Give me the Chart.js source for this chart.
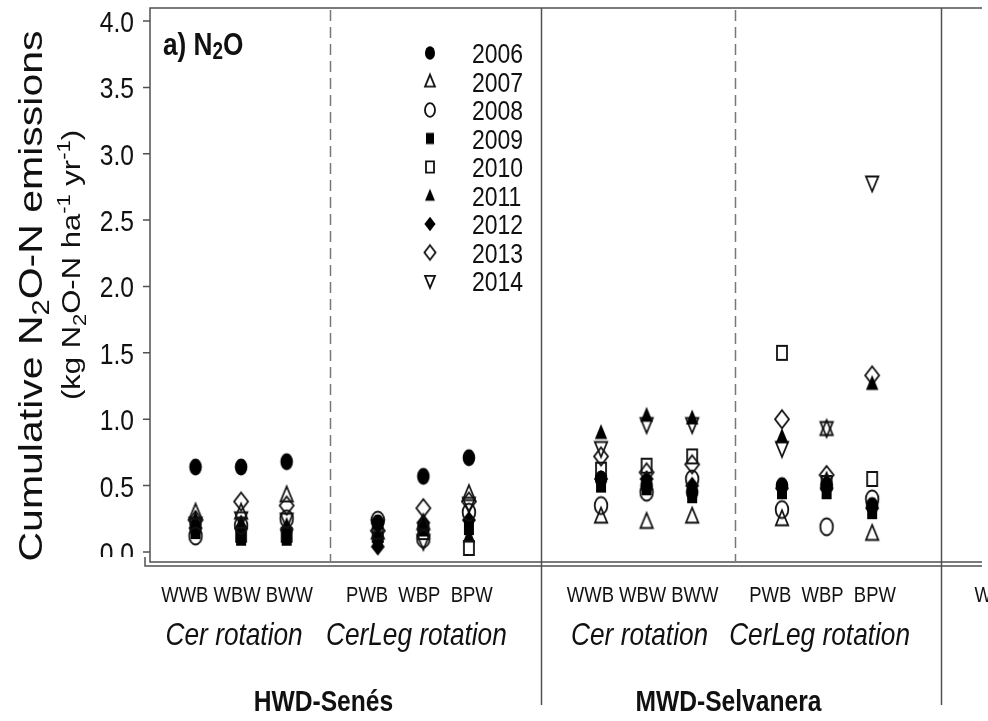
<!DOCTYPE html>
<html>
<head>
<meta charset="utf-8">
<script src="https://cdn.jsdelivr.net/npm/chart.js@4"></script>
<style>
  html, body { margin: 0; padding: 0; background: #fff; overflow: hidden; }
  canvas { display: block; }
</style>
</head>
<body>
<canvas id="n2o" width="988" height="721"></canvas>
<script>
// treatments, three per rotation block; the last three belong to the next site
const treatments = ["WWB", "WBW", "BWW", "PWB", "WBP", "BPW",
                    "WWB", "WBW", "BWW", "PWB", "WBP", "BPW",
                    "WWB", "WBW", "BWW"];
const treatmentX = [1, 2, 3, 5, 6, 7, 9.9, 10.9, 11.9, 13.87, 14.85, 15.85, 18.85, 19.85, 20.85];
const rotations = ["Cer rotation", "CerLeg rotation", "Cer rotation", "CerLeg rotation"];
const sites = ["HWD-Senés", "MWD-Selvanera"];
const years = ["2006", "2007", "2008", "2009", "2010", "2011", "2012", "2013", "2014"];
const yTicks = [0, 0.5, 1, 1.5, 2, 2.5, 3, 3.5, 4];

// cumulative N2O-N (kg N2O-N ha-1 yr-1), order follows treatments
const y2006 = [0.64, 0.64, 0.68, 0.22, 0.57, 0.71, 0.55, 0.50, 0.45, 0.50, 0.50, 0.35];
const y2007 = [0.30, 0.30, 0.43, 0.15, 0.22, 0.44, 0.27, 0.23, 0.27, 0.25, 0.93, 0.14];
const y2008 = [0.12, 0.20, 0.25, 0.24, 0.10, 0.30, 0.35, 0.45, 0.55, 0.32, 0.19, 0.40];
const y2009 = [0.15, 0.10, 0.10, 0.10, 0.17, 0.18, 0.50, 0.48, 0.42, 0.45, 0.45, 0.30];
const y2010 = [0.20, 0.13, 0.13, 0.13, 0.15, 0.03, 0.62, 0.65, 0.72, 1.50, 0.52, 0.55];
const y2011 = [0.25, 0.22, 0.20, 0.12, 0.20, 0.12, 0.90, 1.03, 1.01, 0.87, 0.55, 1.27];
const y2012 = [0.18, 0.18, 0.17, 0.04, 0.22, 0.24, 0.55, 0.55, 0.50, 0.48, 0.48, 0.33];
const y2013 = [0.24, 0.38, 0.35, 0.16, 0.33, 0.38, 0.72, 0.60, 0.66, 1.00, 0.58, 1.33];
const y2014 = [0.21, 0.25, 0.24, 0.19, 0.08, 0.36, 0.78, 0.96, 0.96, 0.78, 0.93, 2.78];
const series = [y2006, y2007, y2008, y2009, y2010, y2011, y2012, y2013, y2014];

// symbol per year
const yearShapes = ["circle", "triangle", "circle", "square", "square", "triangle", "diamond", "diamond", "down"];
const yearFilled = [true, false, false, true, false, true, true, false, false];

// separators between rotation blocks (dashed) and sites (solid), x axis units
const dashedX = [3.96, 12.85];
const solidX = [8.58, 17.37];

const FONT = "'Liberation Sans', Arial, sans-serif";
const SX = 0.82; // narrow text and symbols a little

function makeSymbol(shape, filled, k) {
  const c = document.createElement("canvas");
  c.width = 24;
  c.height = 26;
  const g = c.getContext("2d");
  g.translate(12, 13);
  g.scale(k, k);
  g.beginPath();
  if (shape === "circle") g.ellipse(0, 0, 6.3, 8.5, 0, 0, Math.PI * 2);
  else if (shape === "square") g.rect(-5, -7, 10, 14);
  else if (shape === "triangle") { g.moveTo(0, -8.5); g.lineTo(6.2, 6.5); g.lineTo(-6.2, 6.5); g.closePath(); }
  else if (shape === "down") { g.moveTo(0, 8.5); g.lineTo(6.2, -6.5); g.lineTo(-6.2, -6.5); g.closePath(); }
  else if (shape === "diamond") { g.moveTo(0, -9); g.lineTo(7, 0); g.lineTo(0, 9); g.lineTo(-7, 0); g.closePath(); }
  if (filled) {
    g.fillStyle = "#000";
    g.fill();
  } else {
    g.lineWidth = 1.8 / k;
    g.strokeStyle = "#111";
    g.stroke();
  }
  return c;
}

const symbols = years.map((y, i) => makeSymbol(yearShapes[i], yearFilled[i], 1));
const keySymbols = years.map((y, i) => makeSymbol(yearShapes[i], yearFilled[i], 0.8));

// draw a run of text pieces (with sub/superscripts) starting from x
function drawParts(ctx, parts, x, y, align) {
  let total = 0;
  parts.forEach((p) => {
    ctx.font = `${p.style || ""} ${p.size}px ${FONT}`;
    p.w = ctx.measureText(p.t).width;
    total += p.w;
  });
  let cx = align === "center" ? x - total / 2 : align === "right" ? x - total : x;
  parts.forEach((p) => {
    ctx.font = `${p.style || ""} ${p.size}px ${FONT}`;
    ctx.fillText(p.t, cx, y + (p.dy || 0));
    cx += p.w;
  });
}

function narrowText(ctx, parts, x, y, align) {
  ctx.save();
  ctx.translate(x, y);
  ctx.scale(SX, 1);
  drawParts(ctx, parts, 0, 0, align);
  ctx.restore();
}

function uprightText(ctx, parts, x, y) {
  ctx.save();
  ctx.translate(x, y);
  ctx.rotate(-Math.PI / 2);
  ctx.scale(1, SX);
  drawParts(ctx, parts, 0, 0, "center");
  ctx.restore();
}

const panelDecor = {
  id: "panelDecor",
  beforeDatasetsDraw(chart) {
    const { ctx, chartArea: a, scales } = chart;
    const x = scales.x;
    ctx.save();
    ctx.strokeStyle = "#505050";
    ctx.lineWidth = 1.5;
    ctx.beginPath();
    // frame
    ctx.moveTo(a.right + 2, a.top);
    ctx.lineTo(a.left, a.top);
    ctx.lineTo(a.left, a.bottom - 1);
    ctx.lineTo(a.right + 2, a.bottom - 1);
    // outer axis line
    ctx.moveTo(a.left - 5, a.bottom - 6);
    ctx.lineTo(a.left - 5, a.bottom + 3);
    ctx.lineTo(a.right + 2, a.bottom + 3);
    ctx.stroke();

    // y tick marks
    ctx.beginPath();
    yTicks.forEach((v) => {
      const py = scales.y.getPixelForValue(v);
      ctx.moveTo(a.left - 7, py);
      ctx.lineTo(a.left, py);
    });
    ctx.stroke();

    // site separators run down through the label area
    ctx.beginPath();
    solidX.forEach((v) => {
      const px = Math.round(x.getPixelForValue(v)) + 0.5;
      ctx.moveTo(px, a.top);
      ctx.lineTo(px, 705);
    });
    ctx.stroke();

    ctx.strokeStyle = "#777";
    ctx.setLineDash([11, 6]);
    ctx.beginPath();
    dashedX.forEach((v) => {
      const px = Math.round(x.getPixelForValue(v)) + 0.5;
      ctx.moveTo(px, a.top + 2);
      ctx.lineTo(px, a.bottom - 2);
    });
    ctx.stroke();
    ctx.restore();
  },
  afterDraw(chart) {
    const { ctx, chartArea: a, scales } = chart;
    const x = scales.x;
    ctx.save();
    ctx.fillStyle = "#111";
    ctx.textBaseline = "alphabetic";

    // y tick labels, kept above the axis line
    ctx.save();
    ctx.beginPath();
    ctx.rect(0, 0, a.left - 8, 557);
    ctx.clip();
    yTicks.forEach((v) => {
      const py = scales.y.getPixelForValue(v);
      narrowText(ctx, [{ t: v.toFixed(1), size: 30 }], a.left - 16, py + 11, "right");
    });
    ctx.restore();

    // y axis title, two lines
    uprightText(ctx, [
      { t: "Cumulative N", size: 41 },
      { t: "2", size: 29, dy: 9 },
      { t: "O-N emissions", size: 41 }
    ], 42, 296);
    uprightText(ctx, [
      { t: "(kg N", size: 31 },
      { t: "2", size: 22, dy: 7 },
      { t: "O-N ha", size: 31 },
      { t: "-1", size: 22, dy: -12 },
      { t: " yr", size: 31 },
      { t: "-1", size: 22, dy: -12 },
      { t: ")", size: 31 }
    ], 80, 265);

    // panel tag
    narrowText(ctx, [
      { t: "a) N", size: 32, style: "bold" },
      { t: "2", size: 23, style: "bold", dy: 4 },
      { t: "O", size: 32, style: "bold" }
    ], 163, 55, "left");

    // year legend
    years.forEach((yr, i) => {
      const cy = 53 + 28.5 * i;
      ctx.drawImage(keySymbols[i], 430 - 12, cy - 13);
      narrowText(ctx, [{ t: yr, size: 28 }], 472, cy + 10, "left");
    });

    // treatment rows, rotation names and site names under the axis
    for (let g = 0; g * 3 < treatments.length; g++) {
      const mid = x.getPixelForValue(treatmentX[g * 3 + 1]);
      const sep = g % 2 === 0 ? " " : "  ";
      const row = treatments.slice(g * 3, g * 3 + 3).join(sep);
      narrowText(ctx, [{ t: row, size: 22.5 }], mid - 4, 602, "center");
      if (rotations[g]) {
        narrowText(ctx, [{ t: rotations[g], size: 32, style: "italic" }], mid - 7, 645, "center");
      }
    }
    sites.forEach((s, i) => {
      const cx = x.getPixelForValue(dashedX[i]);
      narrowText(ctx, [{ t: s, size: 30, style: "bold" }], cx - 7, 711, "center");
    });
    ctx.restore();
  }
};

const datasets = years.map((yr, i) => ({
  label: yr,
  data: series[i].map((v, j) => ({ x: treatmentX[j], y: v })),
  pointStyle: symbols[i],
  pointRadius: 7,
  showLine: false
}));

new Chart("n2o", {
  type: "scatter",
  data: { datasets },
  options: {
    responsive: false,
    animation: false,
    layout: { padding: { left: 150, top: 8, right: 0, bottom: 158 } },
    plugins: {
      legend: { display: false },
      tooltip: { enabled: false }
    },
    scales: {
      x: { type: "linear", display: false, min: 0, max: 18.217 },
      y: { type: "linear", display: false, min: -0.083, max: 4.098 }
    }
  },
  plugins: [panelDecor]
});
</script>
</body>
</html>
